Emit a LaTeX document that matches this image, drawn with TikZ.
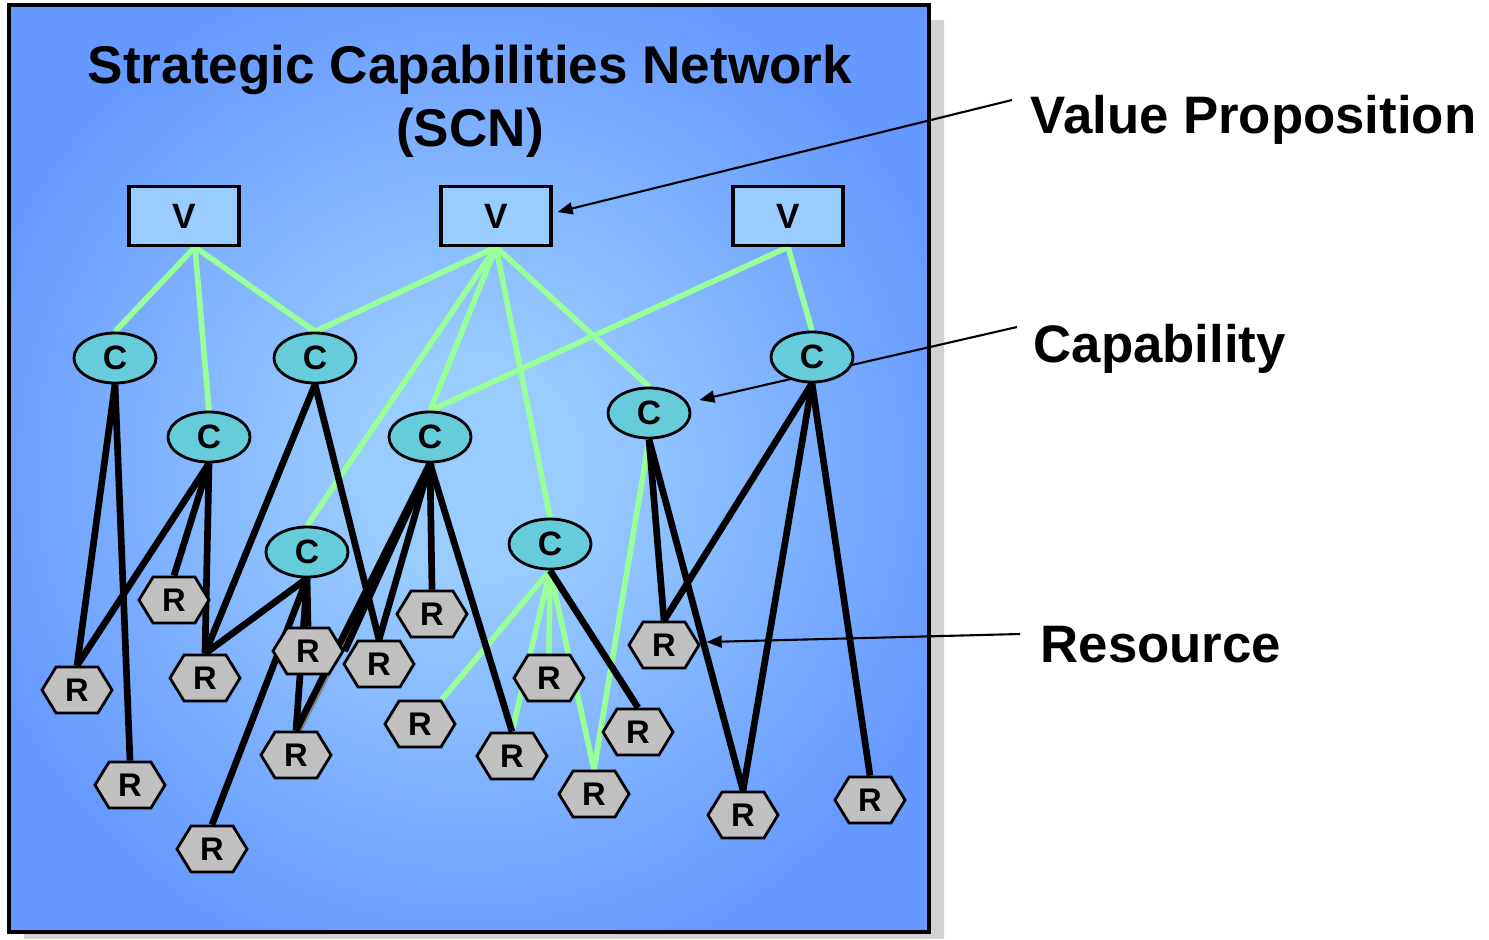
\documentclass[tikz,border=0pt]{standalone}
\usepackage{fontspec}
\setmainfont{Liberation Sans}
\usetikzlibrary{shapes.geometric, shapes.symbols, arrows.meta}

\definecolor{boxblue}{RGB}{102,153,255}
\definecolor{boxlight}{RGB}{153,204,255}
\definecolor{vfill}{RGB}{153,204,255}
\definecolor{cfill}{RGB}{102,204,217}
\definecolor{rfill}{RGB}{192,192,192}
\definecolor{linkgreen}{RGB}{153,255,153}
\definecolor{shadowgray}{RGB}{226,226,226}

\pgfdeclareradialshading{scnglow}{\pgfpoint{0bp}{0bp}}{%
  color(0bp)=(boxlight); color(6bp)=(boxlight); color(28bp)=(boxblue); color(50bp)=(boxblue)}

\pgfdeclarelayer{back}
\pgfdeclarelayer{edges}
\pgfsetlayers{back,edges,main}

\tikzset{
  vbox/.style={draw, line width=0.9pt, fill=vfill, minimum width=1.1cm, minimum height=0.59cm,
    inner sep=0pt, font=\fontsize{10}{10}\selectfont\bfseries},
  capnode/.style={ellipse, draw, line width=0.8pt, fill=cfill, minimum width=0.82cm, minimum height=0.5cm,
    inner sep=0pt, font=\fontsize{9.6}{9.6}\selectfont\bfseries},
  resnode/.style={signal, signal to=east and west, signal pointer angle=117, draw, line width=0.8pt,
    fill=rfill, minimum width=0.7cm, minimum height=0.46cm, inner sep=0pt,
    font=\fontsize{9.3}{9.3}\selectfont\bfseries},
  vline/.style={draw=linkgreen, line width=1.6pt},
  rline/.style={draw=black, line width=1.9pt},
  rshadow/.style={draw=gray, line width=1.6pt},
  callout/.style={draw=black, line width=0.6pt, -{Triangle[length=0.15cm,width=0.12cm]}},
  heading/.style={anchor=north, inner sep=0pt, align=center, font=\fontsize{15.1}{17.9}\selectfont\bfseries},
  legend/.style={anchor=base west, inner sep=0pt, font=\fontsize{15}{18}\selectfont\bfseries}
}

\begin{document}
\begin{tikzpicture}[x=0.01cm, y=-0.01cm]
\useasboundingbox (0,0) rectangle (1489,939);

% frame with its shadow
\begin{pgfonlayer}{back}
  \fill[shadowgray] (24,20) rectangle (944,939);
  \begin{scope}
    \clip (24,20) rectangle (944,939);
    \draw[gray!35, line width=0.2pt, step=0.1] (24,20) grid (944,939);
  \end{scope}
  \shade[shading=scnglow] (9,5) rectangle (929,932);
  \draw[line width=0.9pt] (9,5) rectangle (929,932);
\end{pgfonlayer}

\node[heading] (scn) at (470,44) {Strategic Capabilities Network\\(SCN)};

% value propositions
\node[vbox] (V1) at (184,216) {V};
\node[vbox] (V2) at (496,216) {V};
\node[vbox] (V3) at (788,216) {V};

% capabilities
\foreach \n/\x/\y in {1/115/358, 2/209/437, 3/315/358, 4/430/437,
                      5/307/552, 6/550/544, 7/649/413, 8/812/357}
  \node[capnode] (C\n) at (\x,\y) {C};

% resources
\foreach \n/\x/\y in {1/77/690, 2/130/785, 3/174/600, 4/205/678, 5/212/849,
                      6/308/651, 7/296/755, 8/379/664, 9/432/614, 10/420/724,
                      11/549/678, 12/512/756, 13/594/794, 14/638/732,
                      15/664/645, 16/743/815, 17/870/800}
  \node[resnode] (R\n) at (\x,\y) {R};

\begin{pgfonlayer}{edges}
  \coordinate (v1foot) at ([xshift=0.11cm]V1.south);
  \foreach \b in {C1, C2, C3}
    \draw[vline] (v1foot) -- (\b.north);
  \foreach \a/\b in {V2/C3, V2/C5, V2/C4, V2/C6, V2/C7, V3/C4, V3/C8}
    \draw[vline] (\a.south) -- (\b.north);
  \foreach \a/\b in {C6.south/R10.north east, C6.south/R11.north, C6.south/R12.north,
                     C6.south/R13.north, C7.south/R13.north}
    \draw[vline] (\a) -- (\b);
  \draw[rshadow] ([xshift=0.03cm]C4.south) -- ([xshift=0.03cm]R7.north);
  \foreach \a/\b in {C1.south/R1.north, C1.south/R2.north, C2.south/R1.north,
                     C2.south/R3.north, C2.south/R4.north, C3.south/R4.north,
                     C3.south/R8.north, C5.south/R4.north, C5.south/R5.north,
                     C5.south/R6.north, C5.south/R7.north, C4.south/R7.north,
                     C4.south/R6.east, C4.south/R8.north, C4.south/R9.north,
                     C4.south/R12.north, C6.south/R14.north, C7.south/R15.north,
                     C7.south/R16.north, C8.south/R15.north, C8.south/R16.north,
                     C8.south/R17.north}
    \draw[rline] (\a) -- (\b);

  % legend pointers
  \coordinate (vpfoot) at (1012,100);
  \coordinate (cpfoot) at (1017,327);
  \coordinate (rsfoot) at (1020,634);
  \draw[callout] (vpfoot) -- ([shift={(5,-4)}]V2.east);
  \draw[callout] (cpfoot) -- ([shift={(8,-13)}]C7.east);
  \draw[callout] (rsfoot) -- ([shift={(6,-3)}]R15.east);
\end{pgfonlayer}

\node[legend] (vp) at (1030,133) {Value Proposition};
\node[legend] (cp) at (1033,362) {Capability};
\node[legend] (rs) at (1040,662) {Resource};
\end{tikzpicture}
\end{document}
